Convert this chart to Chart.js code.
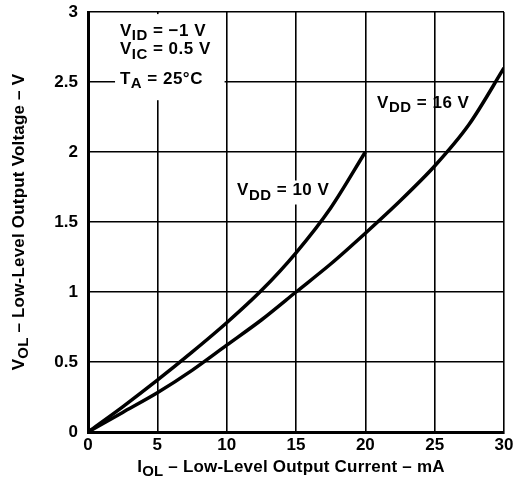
<!DOCTYPE html>
<html>
<head>
<meta charset="utf-8">
<script src="https://cdn.jsdelivr.net/npm/chart.js@4"></script>
<style>
  html, body { margin: 0; padding: 0; background: #fff; }
  #wrap { width: 514px; height: 485px; }
</style>
</head>
<body>
<div id="wrap"><canvas id="volCanvas" width="514" height="485"></canvas></div>
<script>
const currentMA = [0, 2.5, 5, 7.5, 10, 12.5, 15, 17.5, 20, 22.5, 25, 27.5, 30];
const vdd10 = [0, 0.18, 0.37, 0.57, 0.78, 1.01, 1.28, 1.6, 2.0];
const vdd16 = [0, 0.14, 0.28, 0.44, 0.62, 0.8, 1.0, 1.2, 1.42, 1.65, 1.9, 2.2, 2.6];
const xTicks = [0, 5, 10, 15, 20, 25, 30];
const yTicks = [0, 0.5, 1, 1.5, 2, 2.5, 3];

const FONT = "'Liberation Sans', Arial, sans-serif";
const SIZE = 17;

function toPoints(ys) {
  return ys.map((v, i) => ({ x: currentMA[i], y: v }));
}

// text with subscripts: parts = [[text, isSub], ...]
let spacing = "0.5px";
function setFont(ctx, sub) {
  ctx.font = "bold " + (sub ? SIZE * 0.88 : SIZE) + "px " + FONT;
  ctx.letterSpacing = spacing;
}
function drawParts(ctx, parts, x, y) {
  let cx = x;
  for (const [txt, sub] of parts) {
    setFont(ctx, sub);
    ctx.fillText(txt, cx, sub ? y + SIZE * 0.3 : y);
    cx += ctx.measureText(txt).width;
  }
  return cx - x;
}
function partsWidth(ctx, parts) {
  let w = 0;
  for (const [txt, sub] of parts) {
    setFont(ctx, sub);
    w += ctx.measureText(txt).width;
  }
  return w;
}

const labelsPlugin = {
  id: "labels",
  afterDatasetsDraw(chart) {
    const ctx = chart.ctx;
    const xs = chart.scales.x, ys = chart.scales.y;
    ctx.save();
    ctx.fillStyle = "#000";
    ctx.textBaseline = "middle";
    ctx.textAlign = "left";
    spacing = "0.5px";

    // conditions box, blanks out the grid behind it
    const bx = xs.getPixelForValue(1.95), by = ys.getPixelForValue(2.985);
    ctx.save();
    ctx.fillStyle = "#fff";
    ctx.fillRect(bx, by, xs.getPixelForValue(9.85) - bx, ys.getPixelForValue(2.37) - by);
    ctx.restore();
    const lx = xs.getPixelForValue(2.3);
    drawParts(ctx, [["V", 0], ["ID", 1], [" = \u22121 V", 0]], lx, ys.getPixelForValue(2.865));
    drawParts(ctx, [["V", 0], ["IC", 1], [" = 0.5 V", 0]], lx, ys.getPixelForValue(2.73));
    drawParts(ctx, [["T", 0], ["A", 1], [" = 25\u00b0C", 0]], lx, ys.getPixelForValue(2.52));

    // curve labels
    const p10 = [["V", 0], ["DD", 1], [" = 10 V", 0]];
    const x10 = xs.getPixelForValue(10.75), y10 = ys.getPixelForValue(1.725);
    ctx.save();
    ctx.fillStyle = "#fff";
    ctx.fillRect(x10 - 2, y10 - 10, partsWidth(ctx, p10) + 3, 24);
    ctx.restore();
    drawParts(ctx, p10, x10, y10);

    const p16 = [["V", 0], ["DD", 1], [" = 16 V", 0]];
    drawParts(ctx, p16, xs.getPixelForValue(20.85), ys.getPixelForValue(2.35));

    // axis titles
    spacing = "0.2px";
    const xt = [["I", 0], ["OL", 1], [" \u2013 Low-Level Output Current \u2013 mA", 0]];
    const xw = partsWidth(ctx, xt);
    drawParts(ctx, xt, (xs.left + xs.right) / 2 - xw / 2 - 5, 467);

    const yt = [["V", 0], ["OL", 1], [" \u2013 Low-Level Output Voltage \u2013 V", 0]];
    const yw = partsWidth(ctx, yt);
    ctx.translate(19, (ys.top + ys.bottom) / 2);
    ctx.rotate(-Math.PI / 2);
    drawParts(ctx, yt, -yw / 2, 0);
    ctx.restore();
  }
};

const tickFont = { family: FONT, size: SIZE, weight: "bold" };

new Chart(document.getElementById("volCanvas"), {
  type: "line",
  data: {
    datasets: [
      {
        label: "VDD = 10 V",
        data: toPoints(vdd10),
        borderColor: "#000",
        borderWidth: 3.5,
        pointRadius: 0,
        tension: 0.3,
      },
      {
        label: "VDD = 16 V",
        data: toPoints(vdd16),
        borderColor: "#000",
        borderWidth: 3.5,
        pointRadius: 0,
        tension: 0.3,
      },
    ],
  },
  options: {
    responsive: false,
    animation: false,
    devicePixelRatio: 1,
    layout: { padding: { top: 12, right: 10, left: 0, bottom: 0 } },
    plugins: { legend: { display: false }, tooltip: { enabled: false } },
    scales: {
      x: {
        type: "linear", min: 0, max: 30,
        afterBuildTicks: (s) => { s.ticks = xTicks.map(v => ({ value: v })); },
        afterFit: (s) => { s.height = 53; s.paddingLeft = 0; s.paddingRight = 0; },
        ticks: { color: "#000", font: tickFont, padding: 3, maxRotation: 0, callback: (v) => String(v) },
        grid: { color: "#000", lineWidth: 1.6, drawTicks: false },
        border: { color: "#000", width: 3 },
      },
      y: {
        type: "linear", min: 0, max: 3,
        afterBuildTicks: (s) => { s.ticks = yTicks.map(v => ({ value: v })); },
        afterFit: (s) => { s.width = 88; s.paddingTop = 0; s.paddingBottom = 0; },
        ticks: { color: "#000", font: tickFont, padding: 10, callback: (v) => String(v) },
        grid: { color: "#000", lineWidth: 1.6, drawTicks: false },
        border: { color: "#000", width: 3 },
      },
    },
  },
  plugins: [labelsPlugin],
});
</script>
</body>
</html>
